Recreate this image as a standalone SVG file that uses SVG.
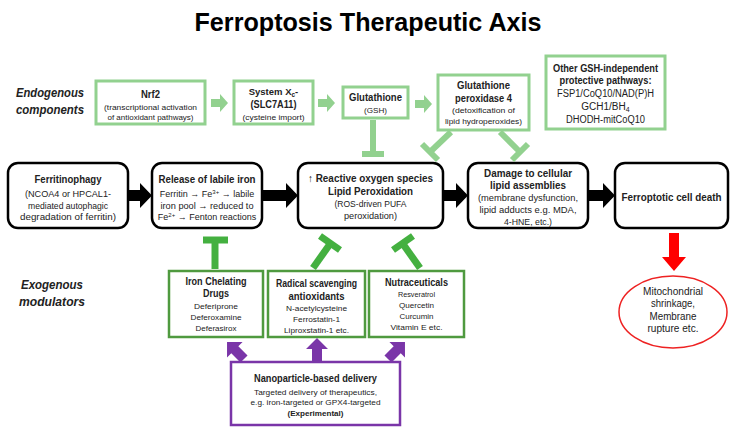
<svg xmlns="http://www.w3.org/2000/svg" width="736" height="431" viewBox="0 0 736 431">
<style>
text{font-family:"Liberation Sans",Arial,sans-serif;fill:#222;text-anchor:middle}
.b{font-weight:bold}
.t{font-size:9.5px}
.s{font-size:8px}
.m{font-size:10px}
.h{font-size:10px;font-weight:bold}
.H{font-size:10.5px;font-weight:bold}
.lab{font-size:13px;font-weight:bold;font-style:italic}
.endo{fill:#fff;stroke:#92d18f;stroke-width:3}
.main{fill:#fff;stroke:#000;stroke-width:2.5}
.exo{fill:#fff;stroke:#4f9a3f;stroke-width:2.5}
.nano{fill:#fff;stroke:#7a35a8;stroke-width:2.5}
.tl{stroke:#92d18f;stroke-width:6;fill:none}
.td{stroke:#44b040;stroke-width:7;fill:none}
.ga{fill:#92d18f}
.ka{fill:#000}
.pa{fill:#7a35a8}
</style>
<text x="368" y="31" style="font-size:26px;font-weight:bold;fill:#000" textLength="347" lengthAdjust="spacingAndGlyphs">Ferroptosis Therapeutic Axis</text>
<text class="lab" x="50" y="97" textLength="68" lengthAdjust="spacingAndGlyphs">Endogenous</text>
<text class="lab" x="50" y="114" textLength="68" lengthAdjust="spacingAndGlyphs">components</text>
<text class="lab" x="52" y="289" textLength="62" lengthAdjust="spacingAndGlyphs">Exogenous</text>
<text class="lab" x="52" y="306" textLength="66" lengthAdjust="spacingAndGlyphs">modulators</text>
<g id="nrf2"><rect class="endo" x="96" y="81" width="109" height="43"/>
<text class="h" x="150.5" y="98" textLength="19" lengthAdjust="spacingAndGlyphs">Nrf2</text>
<text class="s" x="150.5" y="110" textLength="93" lengthAdjust="spacingAndGlyphs">(transcriptional activation</text>
<text class="s" x="150.5" y="120" textLength="86" lengthAdjust="spacingAndGlyphs">of antioxidant pathways)</text></g>
<g id="systemxc"><rect class="endo" x="234" y="81" width="79" height="43"/>
<text x="273.5" y="95" style="font-size:9.5px;font-weight:bold">System X<tspan font-size="6.5" dy="2">c</tspan><tspan dy="-2">-</tspan></text>
<text class="h" x="273.5" y="108" textLength="46" lengthAdjust="spacingAndGlyphs">(SLC7A11)</text>
<text class="s" x="273.5" y="120" textLength="62" lengthAdjust="spacingAndGlyphs">(cysteine import)</text></g>
<g id="gsh"><rect class="endo" x="343" y="87" width="65" height="31"/>
<text class="h" x="375.5" y="101" textLength="53" lengthAdjust="spacingAndGlyphs">Glutathione</text>
<text class="s" x="375.5" y="113" textLength="23" lengthAdjust="spacingAndGlyphs">(GSH)</text></g>
<g id="gpx4"><rect class="endo" x="438" y="75" width="91" height="55"/>
<text class="h" x="483.5" y="89" textLength="53" lengthAdjust="spacingAndGlyphs">Glutathione</text>
<text class="h" x="483.5" y="102" textLength="57" lengthAdjust="spacingAndGlyphs">peroxidase 4</text>
<text class="s" x="483.5" y="113" textLength="63" lengthAdjust="spacingAndGlyphs">(detoxification of</text>
<text class="s" x="483.5" y="124" textLength="77" lengthAdjust="spacingAndGlyphs">lipid hydroperoxides)</text></g>
<g id="other"><rect class="endo" x="546" y="56" width="119" height="73"/>
<text class="h" x="605.5" y="72" textLength="105" lengthAdjust="spacingAndGlyphs">Other GSH-independent</text>
<text class="h" x="605.5" y="84" textLength="92" lengthAdjust="spacingAndGlyphs">protective pathways:</text>
<text class="m" x="605.5" y="97" textLength="97" lengthAdjust="spacingAndGlyphs">FSP1/CoQ10/NAD(P)H</text>
<text class="m" x="605.5" y="110">GCH1/BH<tspan font-size="7" dy="2">4</tspan></text>
<text class="m" x="605.5" y="123" textLength="79" lengthAdjust="spacingAndGlyphs">DHODH-mitCoQ10</text></g>
<g id="ferritinophagy"><rect class="main" x="8" y="163" width="120" height="65" rx="10"/>
<text class="H" x="68" y="183" textLength="67" lengthAdjust="spacingAndGlyphs">Ferritinophagy</text>
<text class="t" x="68" y="197" textLength="86" lengthAdjust="spacingAndGlyphs">(NCOA4 or HPCAL1-</text>
<text class="t" x="68" y="209" textLength="80" lengthAdjust="spacingAndGlyphs">mediated autophagic</text>
<text class="t" x="68" y="220" textLength="96" lengthAdjust="spacingAndGlyphs">degradation of ferritin)</text></g>
<g id="release"><rect class="main" x="152" y="163" width="110" height="65" rx="10"/>
<text class="H" x="207" y="183" textLength="97" lengthAdjust="spacingAndGlyphs">Release of labile iron</text>
<text x="207" y="197" style="font-size:9px">Ferritin → Fe<tspan font-size="6" dy="-3">3+</tspan><tspan dy="3"> → labile</tspan></text>
<text class="t" x="207" y="209" textLength="93" lengthAdjust="spacingAndGlyphs">iron pool → reduced to</text>
<text x="207" y="220" style="font-size:9px">Fe<tspan font-size="6" dy="-3">2+</tspan><tspan dy="3"> → Fenton reactions</tspan></text></g>
<g id="ros"><rect class="main" x="298" y="163" width="145" height="65" rx="10"/>
<text class="H" x="370.5" y="182" textLength="125" lengthAdjust="spacingAndGlyphs">↑ Reactive oxygen species</text>
<text class="H" x="370.5" y="195" textLength="85" lengthAdjust="spacingAndGlyphs">Lipid Peroxidation</text>
<text class="t" x="370.5" y="207" textLength="72" lengthAdjust="spacingAndGlyphs">(ROS-driven PUFA</text>
<text class="t" x="370.5" y="219" textLength="53" lengthAdjust="spacingAndGlyphs">peroxidation)</text></g>
<g id="damage"><rect class="main" x="468" y="163" width="120" height="65" rx="10"/>
<text class="H" x="528" y="177" textLength="88" lengthAdjust="spacingAndGlyphs">Damage to cellular</text>
<text class="H" x="528" y="189" textLength="76" lengthAdjust="spacingAndGlyphs">lipid assemblies</text>
<text class="t" x="528" y="201" textLength="100" lengthAdjust="spacingAndGlyphs">(membrane dysfunction,</text>
<text class="t" x="528" y="213" textLength="97" lengthAdjust="spacingAndGlyphs">lipid adducts e.g. MDA,</text>
<text class="t" x="528" y="225" textLength="48" lengthAdjust="spacingAndGlyphs">4-HNE, etc.)</text></g>
<g id="death"><rect class="main" x="615" y="163" width="113" height="65" rx="10"/>
<text class="h" x="671.5" y="201" textLength="100" lengthAdjust="spacingAndGlyphs">Ferroptotic cell death</text></g>
<g id="iron"><rect class="exo" x="169" y="271" width="94" height="66"/>
<text class="h" x="216" y="285" textLength="61" lengthAdjust="spacingAndGlyphs">Iron Chelating</text>
<text class="h" x="216" y="297" textLength="26" lengthAdjust="spacingAndGlyphs">Drugs</text>
<text class="s" x="216" y="309" textLength="44" lengthAdjust="spacingAndGlyphs">Deferiprone</text>
<text class="s" x="216" y="320" textLength="51" lengthAdjust="spacingAndGlyphs">Deferoxamine</text>
<text class="s" x="216" y="331" textLength="41" lengthAdjust="spacingAndGlyphs">Deferasirox</text></g>
<g id="radical"><rect class="exo" x="268" y="271" width="97" height="66"/>
<text class="h" x="316.5" y="287" textLength="81" lengthAdjust="spacingAndGlyphs">Radical scavenging</text>
<text class="h" x="316.5" y="300" textLength="56" lengthAdjust="spacingAndGlyphs">antioxidants</text>
<text class="s" x="316.5" y="311" textLength="61" lengthAdjust="spacingAndGlyphs">N-acetylcysteine</text>
<text class="s" x="316.5" y="322" textLength="47" lengthAdjust="spacingAndGlyphs">Ferrostatin-1</text>
<text class="s" x="316.5" y="333" textLength="65" lengthAdjust="spacingAndGlyphs">Liproxstatin-1 etc.</text></g>
<g id="nutra"><rect class="exo" x="369" y="271" width="95" height="66"/>
<text class="h" x="416.5" y="286" textLength="63" lengthAdjust="spacingAndGlyphs">Nutraceuticals</text>
<text class="s" x="416.5" y="297" textLength="37" lengthAdjust="spacingAndGlyphs">Resveratrol</text>
<text class="s" x="416.5" y="308" textLength="35" lengthAdjust="spacingAndGlyphs">Quercetin</text>
<text class="s" x="416.5" y="319" textLength="34" lengthAdjust="spacingAndGlyphs">Curcumin</text>
<text class="s" x="416.5" y="330" textLength="52" lengthAdjust="spacingAndGlyphs">Vitamin E etc.</text></g>
<g id="nano"><rect class="nano" x="231" y="362" width="169" height="63"/>
<text class="h" x="315.5" y="382" textLength="123" lengthAdjust="spacingAndGlyphs">Nanoparticle-based delivery</text>
<text class="s" x="315.5" y="395" textLength="123" lengthAdjust="spacingAndGlyphs">Targeted delivery of therapeutics,</text>
<text class="s" x="315.5" y="405" textLength="130" lengthAdjust="spacingAndGlyphs">e.g. iron-targeted or GPX4-targeted</text>
<text class="s b" x="315.5" y="416" textLength="56" lengthAdjust="spacingAndGlyphs">(Experimental)</text></g>
<g id="outcome"><ellipse cx="673" cy="312" rx="54" ry="36" fill="#fff" stroke="#ee2222" stroke-width="1.5"/>
<text class="m" x="673" y="295" textLength="60" lengthAdjust="spacingAndGlyphs">Mitochondrial</text>
<text class="m" x="673" y="307" textLength="44" lengthAdjust="spacingAndGlyphs">shrinkage,</text>
<text class="m" x="673" y="320" textLength="47" lengthAdjust="spacingAndGlyphs">Membrane</text>
<text class="m" x="673" y="332" textLength="51" lengthAdjust="spacingAndGlyphs">rupture etc.</text></g>
<g id="connectors">
<polygon class="ga" points="211,99 220,99 220,94 228,103 220,112 220,107 211,107"/>
<polygon class="ga" points="318,99 327,99 327,94 335,103 327,112 327,107 318,107"/>
<polygon class="ga" points="415,100 424,100 424,95 432,104 424,113 424,108 415,108"/>
<line class="tl" x1="373" y1="120" x2="373" y2="153"/>
<line class="tl" x1="362" y1="154" x2="384" y2="154"/>
<line class="tl" x1="451" y1="132" x2="430" y2="152"/>
<line class="tl" x1="422" y1="144" x2="438" y2="160"/>
<line class="tl" x1="500" y1="132" x2="520" y2="152"/>
<line class="tl" x1="512" y1="160" x2="528" y2="144"/>
<polygon class="ka" points="128,190 140,190 140,183 152,195.5 140,208 140,201 128,201"/>
<polygon class="ka" points="262,190 286,190 286,183 298,195.5 286,208 286,201 262,201"/>
<polygon class="ka" points="443,190 456,190 456,183 468,195.5 456,208 456,201 443,201"/>
<polygon class="ka" points="588,190 603,190 603,183 615,195.5 603,208 603,201 588,201"/>
<line class="td" x1="215" y1="269" x2="215" y2="240"/>
<line class="td" x1="203" y1="240" x2="228" y2="240"/>
<line class="td" x1="313" y1="268" x2="330" y2="244"/>
<line class="td" x1="320" y1="236" x2="340" y2="250"/>
<line class="td" x1="420" y1="268" x2="403" y2="244"/>
<line class="td" x1="393" y1="250" x2="413" y2="236"/>
<polygon fill="#ff0000" points="669,233 679,233 679,257 686,257 674,271 662,257 669,257"/>
<polygon class="pa" points="312,362 312,349 306,349 317,338 328,349 322,349 322,362"/>
<g transform="translate(244,359) rotate(-45)"><polygon class="pa" points="-5,0 -5,-13 -11,-13 0,-24 11,-13 5,-13 5,0"/></g>
<g transform="translate(388,359) rotate(45)"><polygon class="pa" points="-5,0 -5,-13 -11,-13 0,-24 11,-13 5,-13 5,0"/></g>
</g>
</svg>
